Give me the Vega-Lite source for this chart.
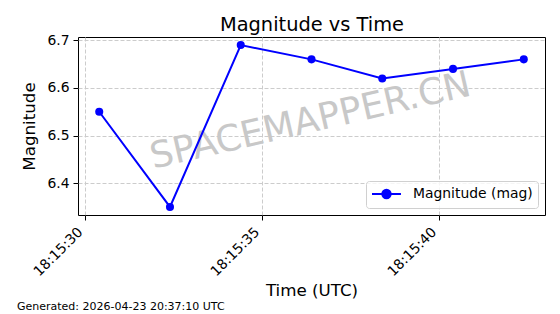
{
  "$schema": "https://vega.github.io/schema/vega-lite/v6.json",
  "width": 560,
  "height": 314,
  "autosize": {"type": "fit", "contains": "padding"},
  "padding": {"left": 16, "top": 14, "right": 15, "bottom": 1},
  "background": "white",
  "config": {
    "font": "DejaVu Sans",
    "view": {"stroke": "black", "strokeWidth": 1},
    "axis": {
      "labelFont": "DejaVu Sans", "titleFont": "DejaVu Sans",
      "labelFontSize": 13.9, "titleFontSize": 16.7,
      "labelColor": "black", "titleColor": "black", "titleFontWeight": "normal",
      "tickColor": "black", "tickSize": 5, "tickWidth": 1,
      "labelPadding": 4, "domain": false,
      "gridColor": "#cccccc", "gridDash": [4, 2], "gridWidth": 1
    }
  },
  "title": {
    "text": "Generated: 2026-04-23 20:37:10 UTC",
    "orient": "bottom", "anchor": "start", "frame": "bounds",
    "fontSize": 11, "fontWeight": "normal", "font": "DejaVu Sans", "color": "black",
    "offset": 2, "dx": -5
  },
  "data": {
    "values": [
      {"time": "2026-04-23T18:15:30.4Z", "mag": 6.55},
      {"time": "2026-04-23T18:15:32.4Z", "mag": 6.35},
      {"time": "2026-04-23T18:15:34.4Z", "mag": 6.69},
      {"time": "2026-04-23T18:15:36.4Z", "mag": 6.66},
      {"time": "2026-04-23T18:15:38.4Z", "mag": 6.62},
      {"time": "2026-04-23T18:15:40.4Z", "mag": 6.64},
      {"time": "2026-04-23T18:15:42.4Z", "mag": 6.66}
    ]
  },
  "resolve": {"axis": {"x": "independent"}},
  "layer": [
    {
      "data": {"values": [{"time": "2026-04-23T18:15:36.37Z", "mag": 6.53, "label": "SPACEMAPPER.CN"}]},
      "mark": {"type": "text", "angle": -13, "fontSize": 36.5, "color": "#c8c8c8", "font": "DejaVu Sans", "align": "center", "baseline": "middle"},
      "encoding": {
        "x": {"field": "time", "type": "temporal", "axis": null},
        "y": {"field": "mag", "type": "quantitative"},
        "text": {"field": "label"}
      }
    },
    {
      "mark": {"type": "line", "color": "#0000ff", "strokeWidth": 2},
      "encoding": {
        "x": {
          "field": "time", "type": "temporal",
          "scale": {"type": "utc", "domain": ["2026-04-23T18:15:29.8Z", "2026-04-23T18:15:43.0Z"], "nice": false},
          "axis": {"title": "Time (UTC)", "grid": true, "labelExpr": "utcFormat(datum.value, '%H:%M:%S')", "labelAngle": -45, "labelAlign": "right", "labelBaseline": "bottom", "labelPadding": 14.6, "values": ["2026-04-23T18:15:30Z", "2026-04-23T18:15:35Z", "2026-04-23T18:15:40Z"], "titlePadding": 4}
        },
        "y": {
          "field": "mag", "type": "quantitative",
          "scale": {"domain": [6.333, 6.707], "nice": false, "zero": false},
          "axis": {"title": "Magnitude", "grid": true, "values": [6.4, 6.5, 6.6, 6.7], "format": ".1f", "titlePadding": 8}
        },
        "color": {
          "datum": "Magnitude (mag)", "type": "nominal",
          "scale": {"range": ["#0000ff"]},
          "legend": {
            "title": null, "orient": "bottom-right", "offset": 7,
            "symbolType": "M-1,0H3.14M0.47,0A0.6,0.6 0 1 1 1.67,0A0.6,0.6 0 1 1 0.47,0",
            "symbolSize": 196, "symbolStrokeWidth": 2, "symbolFillColor": "#0000ff", "symbolStrokeColor": "#0000ff",
            "labelFontSize": 13.9, "labelFont": "DejaVu Sans", "labelColor": "black", "labelOffset": 26,
            "padding": 5, "strokeColor": "#d0d0d0", "fillColor": "rgba(255,255,255,0.8)", "cornerRadius": 3
          }
        }
      }
    },
    {
      "mark": {"type": "point", "filled": true, "shape": "circle", "size": 65, "color": "#0000ff", "opacity": 1},
      "encoding": {
        "x": {
          "field": "time", "type": "temporal",
          "axis": {"orient": "top", "title": "Magnitude vs Time", "titleFontSize": 19.4, "titlePadding": 3, "labels": false, "ticks": false, "grid": false, "domain": false}
        },
        "y": {"field": "mag", "type": "quantitative"}
      }
    }
  ]
}
